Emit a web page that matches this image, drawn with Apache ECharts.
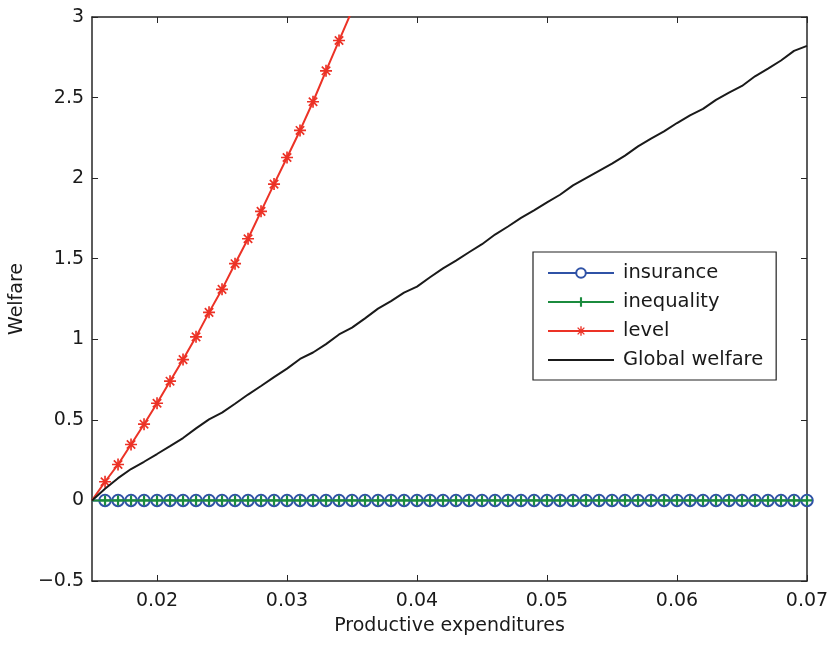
<!DOCTYPE html>
<html>
<head>
<meta charset="utf-8">
<script src="https://cdn.jsdelivr.net/npm/echarts@6/dist/echarts.min.js"></script>
<style>
html,body{margin:0;padding:0;background:#fff;}
#chart{width:833px;height:647px;}
</style>
</head>
<body>
<div id="chart"></div>
<script>
// ---- data ----
const xValues = [0.015,0.016,0.017,0.018,0.019,0.020,0.021,0.022,0.023,0.024,0.025,0.026,0.027,0.028,0.029,0.030,0.031,0.032,0.033,0.034,0.035,0.036,0.037,0.038,0.039,0.040,0.041,0.042,0.043,0.044,0.045,0.046,0.047,0.048,0.049,0.050,0.051,0.052,0.053,0.054,0.055,0.056,0.057,0.058,0.059,0.060,0.061,0.062,0.063,0.064,0.065,0.066,0.067,0.068,0.069,0.070];
const insurance = [0,0,0,0,0,0,0,0,0,0,0,0,0,0,0,0,0,0,0,0,0,0,0,0,0,0,0,0,0,0,0,0,0,0,0,0,0,0,0,0,0,0,0,0,0,0,0,0,0,0,0,0,0,0,0,0];
const inequality = [0,0,0,0,0,0,0,0,0,0,0,0,0,0,0,0,0,0,0,0,0,0,0,0,0,0,0,0,0,0,0,0,0,0,0,0,0,0,0,0,0,0,0,0,0,0,0,0,0,0,0,0,0,0,0,0];
const levelX = [0.015,0.016,0.017,0.018,0.019,0.020,0.021,0.022,0.023,0.024,0.025,0.026,0.027,0.028,0.029,0.030,0.031,0.032,0.033,0.034,0.035];
const level = [0,0.116,0.223,0.347,0.473,0.603,0.740,0.874,1.015,1.167,1.310,1.469,1.624,1.794,1.963,2.128,2.296,2.474,2.666,2.854,3.04];
const globalWelfare = [0,0.072,0.138,0.195,0.240,0.288,0.337,0.387,0.447,0.503,0.545,0.600,0.657,0.710,0.765,0.818,0.878,0.918,0.970,1.030,1.072,1.130,1.190,1.237,1.290,1.327,1.385,1.440,1.488,1.540,1.590,1.650,1.700,1.753,1.800,1.850,1.897,1.955,2.000,2.045,2.090,2.140,2.197,2.245,2.290,2.342,2.390,2.430,2.486,2.530,2.572,2.632,2.680,2.730,2.790,2.821];
const xTicks = [0.02,0.03,0.04,0.05,0.06,0.07];
const seriesNames = ['insurance','inequality','level','Global welfare'];
const xAxisTitle = 'Productive expenditures';
const yAxisTitle = 'Welfare';

// ---- styling ----
const FONT = 'DejaVu Sans';
const TEXT_COLOR = '#1a1a1a';
const AXIS_COLOR = '#262626';
const PLUS = 'path://M3.9,0 H6.1 V3.9 H10 V6.1 H6.1 V10 H3.9 V6.1 H0 V3.9 H3.9 Z';
const STAR = 'path://M8.6,0 H11.4 V20 H8.6 Z M0,8.6 H20 V11.4 H0 Z M4.01,2.0 L18.0,15.99 L15.99,18.0 L2.0,4.01 Z M18.0,4.01 L4.01,18.0 L2.0,15.99 L15.99,2.0 Z';

function pairs(xs, ys){
  return xs.map((x,i)=> i===0 ? {value:[x,ys[i]], symbol:'none'} : [x, ys[i]]);
}

const chart = echarts.init(document.getElementById('chart'), null, {renderer:'canvas'});

function axisLine(){ return {show:true, onZero:false, lineStyle:{color:AXIS_COLOR, width:1.5}}; }
const tick = (extra)=>Object.assign({show:true, inside:true, length:6, lineStyle:{color:AXIS_COLOR, width:1}}, extra||{});

chart.setOption({
  animation:false,
  backgroundColor:'#fff',
  grid:{left:90, top:17, width:717, height:564, containLabel:false},
  legend:{
    left:533, top:252,
    orient:'vertical',
    align:'left',
    padding:[11,13,10,14],
    itemGap:9,
    itemWidth:66, itemHeight:12,
    borderColor:'#222', borderWidth:1.2,
    backgroundColor:'#fff',
    textStyle:{fontFamily:FONT, fontSize:19.5, color:TEXT_COLOR, lineHeight:19, padding:[0,0,0,4]},
    data:[
      {name:seriesNames[0]},
      {name:seriesNames[1]},
      {name:seriesNames[2]},
      {name:seriesNames[3], itemStyle:{opacity:0}}
    ]
  },
  xAxis:[
    {
      type:'value', min:0.015, max:0.07, position:'bottom',
      name:xAxisTitle, nameLocation:'middle', nameGap:36,
      nameTextStyle:{fontFamily:FONT, fontSize:19, color:TEXT_COLOR},
      axisLine:axisLine(), splitLine:{show:false},
      axisTick:tick({customValues:xTicks}),
      axisLabel:{show:true, margin:11, fontFamily:FONT, fontSize:19, color:TEXT_COLOR, customValues:xTicks,
        formatter:v=>v.toFixed(2)}
    },
    {
      type:'value', min:0.015, max:0.07, position:'top',
      axisLine:axisLine(), splitLine:{show:false},
      axisTick:tick({customValues:xTicks}),
      axisLabel:{show:false, customValues:xTicks}
    }
  ],
  yAxis:[
    {
      type:'value', min:-0.5, max:3, interval:0.5, position:'left',
      name:yAxisTitle, nameLocation:'middle', nameGap:52, nameRotate:90,
      nameTextStyle:{fontFamily:FONT, fontSize:19, color:TEXT_COLOR},
      axisLine:axisLine(), splitLine:{show:false},
      axisTick:tick(),
      axisLabel:{show:true, margin:8, fontFamily:FONT, fontSize:19, color:TEXT_COLOR,
        formatter:v=>String(v).replace('-', '\u2212')}
    },
    {
      type:'value', min:-0.5, max:3, interval:0.5, position:'right',
      axisLine:axisLine(), splitLine:{show:false},
      axisTick:tick(),
      axisLabel:{show:false}
    }
  ],
  series:[
    {
      name:seriesNames[0], type:'line', xAxisIndex:0, yAxisIndex:0,
      data:pairs(xValues, insurance),
      symbol:'emptyCircle', symbolSize:11.5,
      lineStyle:{color:'#2f52a6', width:2},
      itemStyle:{color:'#2f52a6', borderColor:'#2f52a6', borderWidth:2},
      emphasis:{disabled:true}, z:2
    },
    {
      name:seriesNames[1], type:'line', xAxisIndex:0, yAxisIndex:0,
      data:pairs(xValues, inequality),
      symbol:PLUS, symbolSize:10,
      lineStyle:{color:'#1b8b3e', width:2},
      itemStyle:{color:'#1b8b3e'},
      emphasis:{disabled:true}, z:3
    },
    {
      name:seriesNames[2], type:'line', xAxisIndex:0, yAxisIndex:0,
      data:pairs(levelX, level),
      symbol:STAR, symbolSize:12,
      lineStyle:{color:'#ec3226', width:2},
      itemStyle:{color:'#ec3226'},
      emphasis:{disabled:true}, z:4
    },
    {
      name:seriesNames[3], type:'line', xAxisIndex:0, yAxisIndex:0,
      data:xValues.map((x,i)=>[x, globalWelfare[i]]),
      symbol:'none', showSymbol:false,
      lineStyle:{color:'#1a1a1a', width:2},
      itemStyle:{color:'#1a1a1a'},
      emphasis:{disabled:true}, z:5
    }
  ]
});
</script>
</body>
</html>
